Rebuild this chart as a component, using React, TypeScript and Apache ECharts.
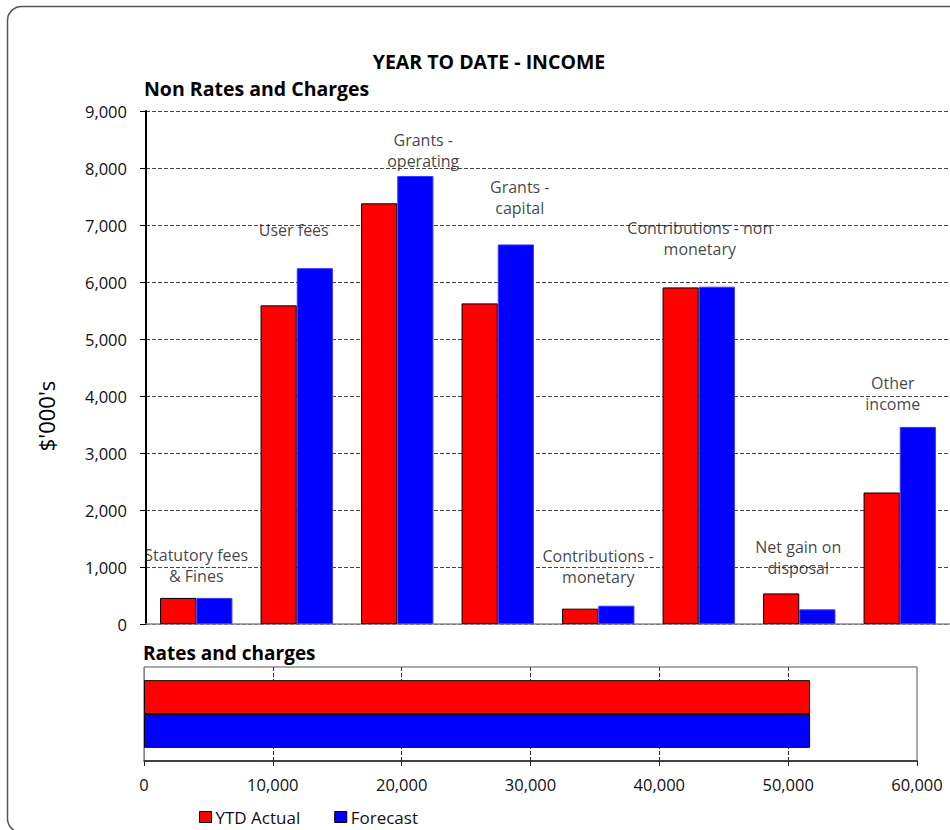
import { useEffect, useRef } from "react";
import * as echarts from "echarts";

// Non rates and charges income lines ($'000s)
const categories = [
  "Statutory fees\n& Fines",
  "User fees",
  "Grants -\noperating",
  "Grants -\ncapital",
  "Contributions -\nmonetary",
  "Contributions - non\nmonetary",
  "Net gain on\ndisposal",
  "Other\nincome",
];
const ytdActual = [458, 5590, 7380, 5625, 269, 5905, 537, 2307];
const forecast = [458, 6243, 7860, 6659, 321, 5917, 257, 3458];

// Rates and charges ($'000s)
const ratesCategory = ["Rates and charges"];
const ratesActual = [51700];
const ratesForecast = [51700];

const seriesNames = ["YTD Actual", "Forecast"];

// Caption placement for each category: height on the value axis and a sideways nudge (px)
const captionHeight = [1035, 6912, 8307, 7474, 1009, 6763, 1158, 4044];
const captionNudge = [0, -3, 26, 22, 0, 1, -1, -7];

const FONT = "'Open Sans', 'Noto Sans', sans-serif";
const RED = "#ff0000";
const BLUE = "#0000ff";

const fmt = (v: number) => v.toLocaleString("en-US");

export default function App() {
  const ref = useRef<HTMLDivElement>(null);

  useEffect(() => {
    if (!ref.current) return;
    const chart = echarts.init(ref.current, undefined, { renderer: "svg" });

    const textStyle = (text: string, size: number, weight: string, align = "center") => ({
      text,
      fill: "#000",
      fontFamily: FONT,
      fontSize: size,
      fontWeight: weight,
      align,
      verticalAlign: "middle",
      textAlign: align,
      textVerticalAlign: "middle",
    });

    chart.setOption({
      animation: false,
      textStyle: { fontFamily: FONT },
      graphic: [
        {
          type: "rect",
          silent: true,
          z: -10,
          shape: { x: 7.5, y: 6.5, width: 1000, height: 826, r: 14 },
          style: { fill: "none", stroke: "#555", lineWidth: 1.5 },
        },
        { type: "text", x: 489, y: 61, style: textStyle("YEAR TO DATE - INCOME", 19.5, "bold") },
        { type: "text", x: 144, y: 88, style: textStyle("Non Rates and Charges", 19.5, "bold", "left") },
        { type: "text", x: 143, y: 653, style: textStyle("Rates and charges", 19, "bold", "left") },
        {
          type: "text",
          x: 46,
          y: 416,
          rotation: Math.PI / 2,
          style: textStyle("$'000's", 22, "normal"),
        },
      ],
      grid: [
        { left: 146, right: -9, top: 111, bottom: 206 },
        {
          left: 144,
          right: 33,
          top: 667,
          bottom: 69,
          show: true,
          borderColor: "#555",
          borderWidth: 1,
        },
      ],
      xAxis: [
        {
          type: "category",
          gridIndex: 0,
          data: categories,
          axisLine: { show: true, lineStyle: { color: "#8c8c8c", width: 1.5 } },
          axisTick: { show: false },
          axisLabel: { show: false },
          splitLine: { show: false },
        },
        {
          type: "value",
          gridIndex: 1,
          min: 0,
          max: 60000,
          interval: 10000,
          axisLine: { show: true, lineStyle: { color: "#222", width: 1.5 } },
          axisTick: { show: true, length: 5, lineStyle: { color: "#222" } },
          axisLabel: { formatter: fmt, color: "#111", fontSize: 16.5, margin: 15 },
          splitLine: {
            show: true,
            showMinLine: false,
            showMaxLine: false,
            lineStyle: { type: [4, 2], color: "#333" },
          },
        },
      ],
      yAxis: [
        {
          type: "value",
          gridIndex: 0,
          min: 0,
          max: 9000,
          interval: 1000,
          axisLine: { show: true, lineStyle: { color: "#000", width: 2 } },
          axisTick: { show: true, length: 6, lineStyle: { color: "#000" } },
          axisLabel: { formatter: fmt, color: "#111", fontSize: 16.5, margin: 19 },
          splitLine: { show: true, lineStyle: { type: [4, 2], color: "#444" } },
        },
        {
          type: "category",
          gridIndex: 1,
          data: ratesCategory,
          axisLine: { show: true, lineStyle: { color: "#888" } },
          axisTick: { show: false },
          axisLabel: { show: false },
        },
      ],
      legend: {
        data: [
          { name: seriesNames[0], itemStyle: { color: RED, borderColor: "#000", borderWidth: 1 } },
          { name: seriesNames[1], itemStyle: { color: BLUE, borderColor: "#000", borderWidth: 1 } },
        ],
        left: 199,
        top: 808,
        padding: 0,
        icon: "rect",
        itemWidth: 12,
        itemHeight: 11,
        itemGap: 34,
        selectedMode: false,
        textStyle: { color: "#111", fontSize: 17, lineHeight: 18, fontFamily: FONT, padding: [0, 0, 0, -1] },
      },
      series: [
        {
          name: seriesNames[0],
          type: "bar",
          xAxisIndex: 0,
          yAxisIndex: 0,
          data: ytdActual,
          barGap: "0%",
          barCategoryGap: "28%",
          itemStyle: { color: RED, borderColor: "#000", borderWidth: 1 },
        },
        {
          name: seriesNames[1],
          type: "bar",
          xAxisIndex: 0,
          yAxisIndex: 0,
          data: forecast,
          barGap: "0%",
          barCategoryGap: "28%",
          itemStyle: { color: BLUE, borderColor: "#3a3aff", borderWidth: 1 },
        },
        {
          type: "scatter",
          xAxisIndex: 0,
          yAxisIndex: 0,
          silent: true,
          symbolSize: 1,
          itemStyle: { color: "transparent" },
          z: 5,
          data: captionHeight.map((h, i) => ({
            value: [i, h],
            label: { offset: [captionNudge[i], 0] },
          })),
          label: {
            show: true,
            position: "inside",
            formatter: (p: any) => categories[p.dataIndex],
            color: "#111",
            fontSize: 16,
            lineHeight: 21,
            align: "center",
            verticalAlign: "middle",
          },
        },
        {
          name: seriesNames[0],
          type: "bar",
          xAxisIndex: 1,
          yAxisIndex: 1,
          data: ratesActual,
          barGap: "0%",
          barCategoryGap: "28%",
          itemStyle: { color: RED, borderColor: "#000", borderWidth: 1 },
        },
        {
          name: seriesNames[1],
          type: "bar",
          xAxisIndex: 1,
          yAxisIndex: 1,
          data: ratesForecast,
          barGap: "0%",
          barCategoryGap: "28%",
          itemStyle: { color: BLUE, borderColor: "#000", borderWidth: 1 },
        },
      ],
    });

    return () => chart.dispose();
  }, []);

  return (
    <div
      ref={ref}
      style={{ position: "absolute", left: 0, top: 0, width: 950, height: 830 }}
    />
  );
}
